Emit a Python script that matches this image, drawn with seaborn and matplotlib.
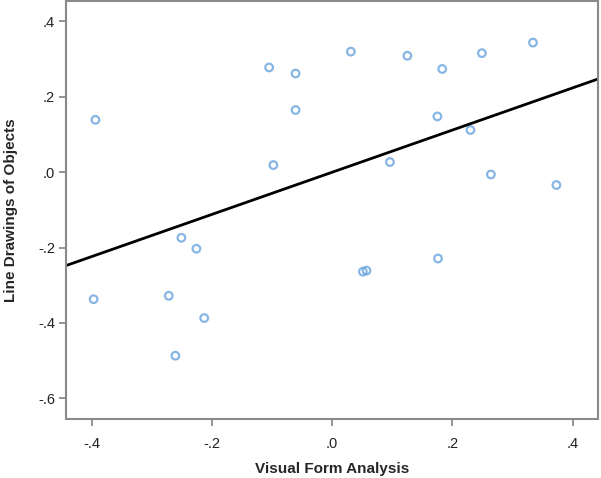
import matplotlib
matplotlib.use('Agg')
import matplotlib.pyplot as plt
import pandas as pd
import seaborn as sns

# Data (partial regression residuals)
visual_form = [-0.394, -0.397, -0.272, -0.261, -0.251, -0.226, -0.213,
               -0.105, -0.098, -0.061, -0.061, 0.031, 0.051, 0.057,
               0.096, 0.125, 0.175, 0.176, 0.183, 0.230, 0.249, 0.264,
               0.334, 0.373]
line_drawings = [0.139, -0.337, -0.328, -0.487, -0.174, -0.203, -0.387,
                 0.278, 0.019, 0.262, 0.165, 0.320, -0.264, -0.261,
                 0.027, 0.309, 0.148, -0.229, 0.274, 0.112, 0.316, -0.006,
                 0.344, -0.034]
x_ticks = [-0.4, -0.2, 0.0, 0.2, 0.4]
x_tick_labels = ['-.4', '-.2', '.0', '.2', '.4']
y_ticks = [-0.6, -0.4, -0.2, 0.0, 0.2, 0.4]
y_tick_labels = ['-.6', '-.4', '-.2', '.0', '.2', '.4']

df = pd.DataFrame({'Visual Form Analysis': visual_form,
                   'Line Drawings of Objects': line_drawings})

sns.set_style('white')
plt.rcParams['font.family'] = ['Liberation Sans', 'DejaVu Sans']

fig = plt.figure(figsize=(6.01, 4.78), dpi=100)
ax = fig.add_axes([0.1098, 0.1234, 0.885, 0.875])
ax.set_xlim(-0.443, 0.442)
ax.set_ylim(-0.655, 0.455)

# scatter + fitted line over the whole axis range
sns.regplot(data=df, x='Visual Form Analysis', y='Line Drawings of Objects',
            ax=ax, ci=None, truncate=False,
            scatter_kws=dict(s=30, facecolors='none', edgecolors='#6aa4de',
                             linewidths=1.6),
            line_kws=dict(color='black', lw=2))
ax.set_xlim(-0.443, 0.442)
ax.set_ylim(-0.655, 0.455)

ax.set_xticks(x_ticks)
ax.set_xticklabels(x_tick_labels)
ax.set_yticks(y_ticks)
ax.set_yticklabels(y_tick_labels)
ax.tick_params(axis='both', direction='out', length=5, width=1.2,
               color='#808080', labelsize=10.5, labelcolor='#222222', pad=3,
               bottom=True, left=True)
ax.tick_params(axis='x', pad=8)

for sp in ax.spines.values():
    sp.set_color('#8a8a8a')
    sp.set_linewidth(1.5)

ax.set_xlabel('Visual Form Analysis', fontsize=11, fontweight='bold', labelpad=8)
ax.set_ylabel('Line Drawings of Objects', fontsize=11, fontweight='bold', labelpad=14)

fig.savefig('out.png', dpi=100)
